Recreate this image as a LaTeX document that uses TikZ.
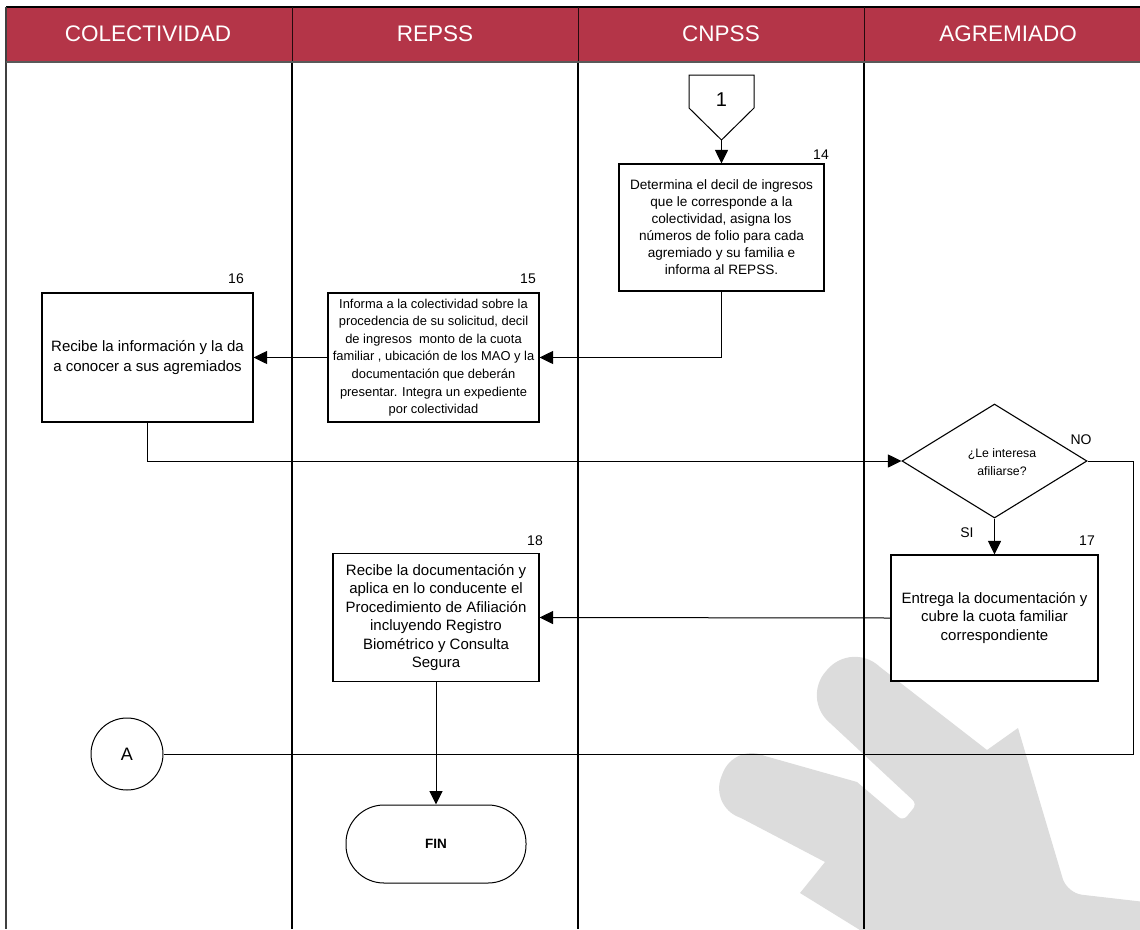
\documentclass[tikz,border=0pt]{standalone}
\usepackage{fontspec}
\setmainfont{Liberation Sans}
\usetikzlibrary{arrows.meta,shapes.geometric}
\definecolor{hdrred}{HTML}{B43548}
\definecolor{wmgray}{HTML}{DCDCDC}
\begin{document}
\begin{tikzpicture}[x=1pt,y=-1pt,
  conn/.style={line width=1pt},
  arr/.style={conn,-{Triangle[length=13.5pt,width=13pt]}},
  procbox/.style={draw,line width=1.1pt,fill=white,align=center,inner sep=2pt,
    font=\fontsize{15}{18.5}\selectfont},
  steplabel/.style={font=\fontsize{14}{16}\selectfont},
  lanehead/.style={text=white,font=\fontsize{22.5}{25}\selectfont},
  lane/.style={line width=1.1pt},
]
\useasboundingbox (0,0) rectangle (1140,929);

% watermark silhouette in the lower right
\fill[wmgray] (830,723) [rounded corners=36] -- (802,698) -- (852,642)
  [sharp corners] -- (880,667) -- (987,750) -- (1018,728)
  [rounded corners=15] -- (1067,893)
  [sharp corners] -- (1145,902) -- (1145,935) -- (868,935) -- (800,893)
  -- (825,862) -- (741,818)
  [rounded corners=31] -- (710,806) -- (734,744)
  [sharp corners] -- (765,756) -- (857,782)
  [rounded corners=6] -- (903,821) -- (917,804)
  [sharp corners] -- cycle;

% header band
\fill[hdrred] (6,7) rectangle (1140,62);
\draw[line width=1.2pt] (6,7) -- (1140,7);
\foreach \xx in {292,578,864} \draw[line width=1pt,black!80!hdrred] (\xx,7) -- (\xx,62);
\node[lanehead] (hcol) at (148,34) {COLECTIVIDAD};
\node[lanehead] (hrep) at (435,34) {REPSS};
\node[lanehead] (hcnp) at (721,34) {CNPSS};
\node[lanehead] (hagr) at (1008,34) {AGREMIADO};

% lane borders
\draw[line width=2pt,black!75] (6,7) -- (6,929);
\foreach \xx in {292,578,864} \draw[lane] (\xx,62) -- (\xx,929);
\draw[line width=2.5pt,black!65] (6,62) -- (1140,62);

% off-page connector 1
\draw[line width=1pt,fill=white] (689,75) -- (754,75) -- (754,108) -- (721.5,140) -- (689,108) -- cycle;
\node[font=\fontsize{20}{22}\selectfont] (p1) at (721.5,100) {1};
\coordinate (p1tip) at (721.5,140);

% process boxes
\node[procbox,minimum width=205,minimum height=127,font=\fontsize{13.6}{17}\selectfont] (b14) at (721.5,227.5)
  {Determina el decil de ingresos\\que le corresponde a la\\colectividad, asigna los\\números de folio para cada\\agremiado y su familia e\\informa al REPSS.};
\node[procbox,minimum width=211,minimum height=129,font=\fontsize{12.9}{17.6}\selectfont] (b15) at (433.5,357.5)
  {Informa a la colectividad sobre la\\procedencia de su solicitud, decil\\de ingresos\ \ monto de la cuota\\familiar , ubicación de los MAO y la\\documentación que deberán\\presentar. Integra un expediente\\por colectividad};
\node[procbox,minimum width=211,minimum height=129,font=\fontsize{15}{20}\selectfont] (b16) at (147.5,357.5)
  {Recibe la información y la da\\a conocer a sus agremiados};
\node[draw,line width=1.1pt,fill=white,shape=diamond,aspect=1.623,minimum width=185,minimum height=114,
  inner sep=0pt] (dia) at (994.5,461) {};
\node[align=center,font=\fontsize{12.3}{18}\selectfont] (diatxt) at (1002,462)
  {¿Le interesa\\afiliarse?};
\node[procbox,minimum width=207,minimum height=126] (b17) at (994.5,618)
  {Entrega la documentación y\\cubre la cuota familiar\\correspondiente};
\node[procbox,minimum width=206,minimum height=128] (b18) at (436,617.5)
  {Recibe la documentación y\\aplica en lo conducente el\\Procedimiento de Afiliación\\incluyendo Registro\\Biométrico y Consulta\\Segura};
\node[draw,line width=1pt,fill=white,circle,minimum size=72,font=\fontsize{18}{20}\selectfont] (conA) at (127,754) {A};
\node[draw,line width=1pt,fill=white,rounded corners=38,minimum width=180,minimum height=78,
  font=\bfseries\fontsize{13.5}{15}\selectfont] (fin) at (436,844) {FIN};

% step numbers and branch labels
\node[steplabel] (n14) at (821,155) {14};
\node[steplabel] (n15) at (528,279) {15};
\node[steplabel] (n16) at (236,279) {16};
\node[steplabel] (n17) at (1087,541) {17};
\node[steplabel] (n18) at (535,541) {18};
\node[steplabel] (lno) at (1081,440) {NO};
\node[steplabel] (lsi) at (967,533) {SI};

% connectors
\coordinate (noturn) at (1133,461);
\draw[arr] (p1tip) -- (b14.north);
\draw[arr] (b14.south) |- (b15.east);
\draw[arr] (b15.west) -- (b16.east);
\draw[arr] (b16.south) |- (dia.west);
\draw[arr] (dia.south) -- (b17.north);
\draw[conn] (dia.east) -- (noturn) |- (conA.east);
\draw[arr] (b17.west) -- (b18.east);
\draw[arr] (b18.south) -- (fin.north);
\end{tikzpicture}
\end{document}
